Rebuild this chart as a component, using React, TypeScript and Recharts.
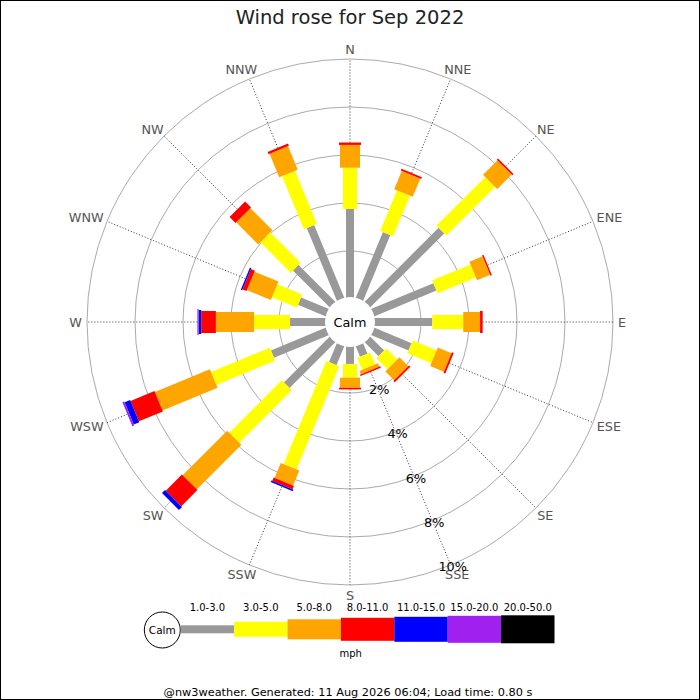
import React from 'react';
import { RadarChart, Radar, PolarGrid, PolarAngleAxis, PolarRadiusAxis, Legend } from 'recharts';

const directions = ['N', 'NNE', 'NE', 'ENE', 'E', 'ESE', 'SE', 'SSE', 'S', 'SSW', 'SW', 'WSW', 'W', 'WNW', 'NW', 'NNW'];

// % of the month per direction, one array per speed band (mph)
const band1to3 = [3.75, 3.03, 4.43, 2.87, 2.47, 1.75, 0.89, 0.54, 0.79, 0.92, 2.77, 2.54, 1.54, 1.32, 2.24, 3.35];
const band3to5 = [1.72, 1.83, 2.87, 1.73, 1.29, 1.08, 0.65, 0.54, 0.57, 4.65, 3.09, 2.65, 1.5, 1.12, 1.79, 2.39];
const band5to8 = [0.95, 0.82, 0.85, 0.59, 0.7, 0.62, 0.52, 0.15, 0.42, 0.68, 2.63, 2.48, 1.59, 1.08, 1.3, 1.06];
const band8to11 = [0.1, 0.08, 0.07, 0.06, 0.11, 0.08, 0.08, 0.06, 0.07, 0.15, 0.95, 1.08, 0.61, 0.18, 0.35, 0.1];
const band11to15 = [0, 0, 0, 0, 0, 0, 0, 0, 0, 0.07, 0.18, 0.25, 0.11, 0.06, 0, 0];
const band15to20 = [0, 0, 0, 0, 0, 0, 0, 0, 0, 0, 0, 0.08, 0.05, 0, 0, 0];
const band20to50 = [0, 0, 0, 0, 0, 0, 0, 0, 0, 0, 0, 0, 0, 0, 0, 0];

const bandLabels = ['1.0-3.0', '3.0-5.0', '5.0-8.0', '8.0-11.0', '11.0-15.0', '15.0-20.0', '20.0-50.0'];
const bandValues = [band1to3, band3to5, band5to8, band8to11, band11to15, band15to20, band20to50];
const bandColors = ['#999999', '#ffff00', '#ffa500', '#ff0000', '#0000ff', '#a020f0', '#000000'];
const bandWidths = [8, 14, 20, 22, 24, 26, 28];
const legendHeights = [8, 15, 20, 23, 25, 27, 28];

const maxPct = 10;
const FONT = '"DejaVu Sans", Verdana, sans-serif';

const rows = directions.map((dir, i) => {
  const row: Record<string, any> = { dir, calm: 0 };
  let sum = 0;
  bandValues.forEach((vals, k) => {
    const start = sum;
    sum += vals[i];
    row['b' + k] = [start, sum];
  });
  row.rest = [sum, maxPct];
  return row;
});

// start of a range segment; uses recharts' baseline points, or reads the scale back from two points
function startOf(points: any[], base: any[] | undefined, i: number) {
  if (base && base[i] && Number.isFinite(base[i].x)) return base[i];
  const p = points[i];
  const q = points.find((o) => o.value[1] !== p.value[1]);
  if (!q || !p.radius) return { x: p.cx, y: p.cy };
  const slope = (p.radius - q.radius) / (p.value[1] - q.value[1]);
  const rs = p.radius + slope * (p.value[0] - p.value[1]);
  const k = rs / p.radius;
  return { x: p.cx + (p.x - p.cx) * k, y: p.cy + (p.y - p.cy) * k };
}

function barShape(color: string, width: number, dash?: string) {
  return (props: any) => {
    const points = props.points || [];
    return (
      <g>
        {points.map((p: any, i: number) => {
          if (p.value[1] - p.value[0] <= 0) return null;
          const s = startOf(points, props.baseLinePoints, i);
          return (
            <line
              key={i}
              x1={s.x}
              y1={s.y}
              x2={p.x}
              y2={p.y}
              stroke={color}
              strokeWidth={width}
              strokeDasharray={dash}
            />
          );
        })}
      </g>
    );
  };
}

function CalmShape(props: any) {
  const p = props.points && props.points[0];
  if (!p) return null;
  return (
    <g>
      <circle cx={p.cx} cy={p.cy} r={p.radius + 2} fill="#fff" />
      <text x={p.cx} y={p.cy + 4.6} textAnchor="middle" fontSize={12.8} fontFamily={FONT} fill="#000">
        Calm
      </text>
    </g>
  );
}

const charW: Record<string, number> = { N: 0.748, E: 0.632, S: 0.635, W: 0.989 };

function CompassTick(props: any) {
  const { x, y, payload } = props;
  const label = String(payload.value);
  const a = (payload.coordinate * Math.PI) / 180;
  const ux = Math.cos(a);
  const uy = -Math.sin(a);
  const w = label.split('').reduce((t, c) => t + (charW[c] || 0.7), 0) * 12.8;
  const tx = x + (ux * w) / 2;
  const ty = y + uy * 5;
  return (
    <text x={tx} y={ty + 4.6} textAnchor="middle" fontSize={12.8} fontFamily={FONT} fill="#555">
      {label}
    </text>
  );
}

function PctTick(props: any) {
  const { x, y, payload } = props;
  if (!payload.value) return null;
  return (
    <text x={x + 2} y={y + 6.5} textAnchor="middle" fontSize={12.8} fontFamily={FONT} fill="#000">
      {payload.value}%
    </text>
  );
}

function SpeedLegend() {
  const x0 = 180.7;
  const seg = 53.4;
  const mid = 39.3;
  return (
    <svg width={700} height={110} style={{ display: 'block' }}>
      <circle cx={162.3} cy={40} r={18} fill="#fff" stroke="#000" strokeWidth={1} />
      <text x={162.3} y={43.7} textAnchor="middle" fontSize={10.5} fontFamily={FONT} fill="#000">
        Calm
      </text>
      {bandLabels.map((lab, k) => (
        <g key={lab}>
          <rect
            x={x0 + k * seg}
            y={mid - legendHeights[k] / 2}
            width={seg}
            height={legendHeights[k]}
            fill={bandColors[k]}
          />
          <text x={x0 + k * seg + seg / 2} y={20.7} textAnchor="middle" fontSize={10} fontFamily={FONT} fill="#000">
            {lab}
          </text>
        </g>
      ))}
      <text x={350.7} y={66.7} textAnchor="middle" fontSize={10} fontFamily={FONT} fill="#000">
        mph
      </text>
    </svg>
  );
}

export default function App() {
  return (
    <div style={{ position: 'absolute', left: 0, top: 0, width: 700, height: 700, background: '#fff' }}>
      <RadarChart
        width={700}
        height={700}
        data={rows}
        cx={350}
        cy={322}
        innerRadius={23}
        outerRadius={263}
        margin={{ top: 0, right: 0, bottom: 0, left: 0 }}
      >
        <PolarGrid gridType="circle" radialLines={false} stroke="#aaa" />
        <PolarAngleAxis dataKey="dir" axisLine={false} tickLine={false} tickSize={5} tick={<CompassTick />} />
        <PolarRadiusAxis
          angle={-67.5}
          type="number"
          domain={[0, maxPct]}
          tickCount={6}
          axisLine={false}
          tick={<PctTick />}
        />
        <Radar
          dataKey="rest"
          isAnimationActive={false}
          dot={false}
          activeDot={false}
          legendType="none"
          shape={barShape('#333', 1, '1 2')}
        />
        {bandLabels.map((lab, k) => (
          <Radar
            key={lab}
            name={lab}
            dataKey={'b' + k}
            isAnimationActive={false}
            dot={false}
            activeDot={false}
            legendType="none"
            shape={barShape(bandColors[k], bandWidths[k])}
          />
        ))}
        <Radar
          dataKey="calm"
          isAnimationActive={false}
          dot={false}
          activeDot={false}
          legendType="none"
          shape={CalmShape}
        />
        <Legend
          content={<SpeedLegend />}
          wrapperStyle={{ position: 'absolute', left: 0, top: 590, bottom: 'auto', width: 700, height: 110 }}
        />
      </RadarChart>
      <svg width={700} height={700} style={{ position: 'absolute', left: 0, top: 0, pointerEvents: 'none' }}>
        <text x={350} y={24} textAnchor="middle" fontSize={19.5} fontFamily={FONT} fill="#222">
          Wind rose for Sep 2022
        </text>
        <text x={348} y={696} textAnchor="middle" fontSize={11.3} fontFamily={FONT} fill="#000">
          @nw3weather. Generated: 11 Aug 2026 06:04; Load time: 0.80 s
        </text>
        <rect x={0.5} y={0.5} width={699} height={699} fill="none" stroke="#000" strokeWidth={1} />
      </svg>
    </div>
  );
}
